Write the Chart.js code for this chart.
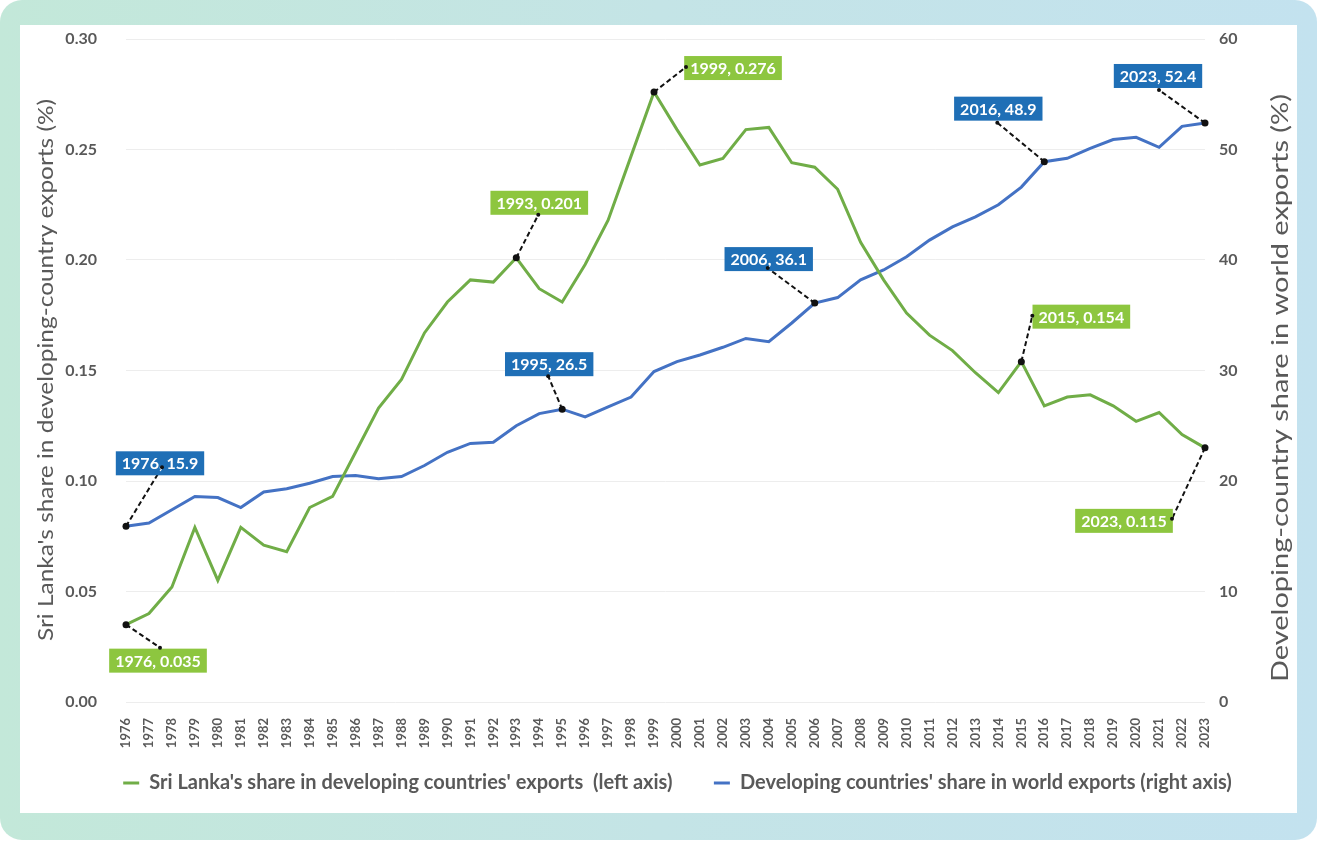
<!DOCTYPE html>
<html>
<head>
<meta charset="utf-8">
<script src="https://cdn.jsdelivr.net/npm/chart.js@4"></script>
<style>
  body { margin: 0; background: #fff; font-family: Lato, sans-serif; }
  .card {
    position: absolute; left: 0; top: 0; width: 1317px; height: 840px;
    border-radius: 22px;
    background: linear-gradient(90deg, #c3e8d9 0%, #c4e4e6 50%, #c3e2ef 100%);
  }
  .panel {
    position: absolute; left: 20px; top: 25px; width: 1277px; height: 788px;
    background: #fff;
  }
  canvas { display: block; }
</style>
</head>
<body>
<div class="card"></div>
<div class="panel"><canvas id="chart" width="1277" height="788"></canvas></div>
<script>
const years = [];
for (let y = 1976; y <= 2023; y++) years.push(String(y));

// Sri Lanka's share in developing-country exports (%), left axis
const sriLankaShare = [
  0.035, 0.040, 0.052, 0.079, 0.055, 0.079, 0.071, 0.068, 0.088, 0.093,
  0.113, 0.133, 0.146, 0.167, 0.181, 0.191, 0.190, 0.201, 0.187, 0.181,
  0.198, 0.218, 0.247, 0.276, 0.259, 0.243, 0.246, 0.259, 0.260, 0.244,
  0.242, 0.232, 0.208, 0.191, 0.176, 0.166, 0.159, 0.149, 0.140, 0.154,
  0.134, 0.138, 0.139, 0.134, 0.127, 0.131, 0.121, 0.115
];

// Developing countries' share in world exports (%), right axis
const developingShare = [
  15.9, 16.2, 17.4, 18.6, 18.5, 17.6, 19.0, 19.3, 19.8, 20.4,
  20.5, 20.2, 20.4, 21.4, 22.6, 23.4, 23.5, 25.0, 26.1, 26.5,
  25.8, 26.7, 27.6, 29.9, 30.8, 31.4, 32.1, 32.9, 32.6, 34.3,
  36.1, 36.6, 38.2, 39.1, 40.3, 41.8, 43.0, 43.9, 45.0, 46.6,
  48.9, 49.2, 50.1, 50.9, 51.1, 50.2, 52.1, 52.4
];

const leftTicks = [0, 0.05, 0.10, 0.15, 0.20, 0.25, 0.30];
const rightTicks = [0, 10, 20, 30, 40, 50, 60];

const leftTitle = "Sri Lanka's share in developing-country exports (%)";
const rightTitle = 'Developing-country share in world exports (%)';

const greenLine = '#70ad47';
const blueLine = '#4472c4';
const greenBox = '#8dc63f';
const blueBox = '#1f6fb6';
const grey = '#595959';

// callouts: dataset, year, leader end offset, box centre offset (px from point)
const callouts = [
  { ds: 1, year: '1976', lx: 36, ly: -59, bx: 34, by: -63 },
  { ds: 0, year: '1976', lx: 34, ly: 23, bx: 32, by: 36 },
  { ds: 0, year: '1993', lx: 22, ly: -43, bx: 23, by: -55 },
  { ds: 1, year: '1995', lx: -14, ly: -33, bx: -13, by: -45 },
  { ds: 0, year: '1999', lx: 32, ly: -25, bx: 79, by: -24 },
  { ds: 1, year: '2006', lx: -47, ly: -35, bx: -46, by: -44 },
  { ds: 1, year: '2016', lx: -47, ly: -39, bx: -46, by: -53 },
  { ds: 0, year: '2015', lx: 11, ly: -46, bx: 60, by: -45 },
  { ds: 1, year: '2023', lx: -46, ly: -33, bx: -47, by: -47 },
  { ds: 0, year: '2023', lx: -33, ly: 71, bx: -81, by: 73 }
];

const calloutPlugin = {
  id: 'callouts',
  afterDatasetsDraw(chart) {
    const ctx = chart.ctx;
    ctx.save();
    callouts.forEach(c => {
      const i = years.indexOf(c.year);
      const pt = chart.getDatasetMeta(c.ds).data[i];
      const v = chart.data.datasets[c.ds].data[i];
      const text = c.year + ', ' + (c.ds === 0 ? v.toFixed(3) : v.toFixed(1));
      ctx.setLineDash([5, 3]);
      ctx.strokeStyle = '#111';
      ctx.lineWidth = 2;
      ctx.beginPath();
      ctx.moveTo(pt.x, pt.y);
      ctx.lineTo(pt.x + c.lx, pt.y + c.ly);
      ctx.stroke();
      ctx.setLineDash([]);
      ctx.font = 'bold 16px Lato';
      const w = ctx.measureText(text).width + 12;
      const h = 24;
      const cx = pt.x + c.bx, cy = pt.y + c.by;
      ctx.fillStyle = c.ds === 0 ? greenBox : blueBox;
      ctx.fillRect(cx - w / 2, cy - h / 2, w, h);
      ctx.fillStyle = '#fff';
      ctx.textAlign = 'center';
      ctx.textBaseline = 'middle';
      ctx.fillText(text, cx, cy + 1);
      ctx.fillStyle = '#111';
      ctx.beginPath();
      ctx.arc(pt.x, pt.y, 3.5, 0, Math.PI * 2);
      ctx.fill();
      ctx.beginPath();
      ctx.arc(pt.x + c.lx, pt.y + c.ly, 2, 0, Math.PI * 2);
      ctx.fill();
    });
    ctx.restore();
  }
};

// both axis titles read bottom-to-top, stretched along their length
const axisTitlePlugin = {
  id: 'axisTitles',
  afterDraw(chart) {
    const ctx = chart.ctx;
    const a = chart.chartArea;
    const items = [
      { text: leftTitle, x: 26, y: a.top + 331, size: 22, len: 542 },
      { text: rightTitle, x: 1260, y: a.top + 349, size: 24, len: 588 }
    ];
    ctx.save();
    items.forEach(t => {
      ctx.save();
      ctx.font = t.size + 'px Lato';
      const k = t.len / ctx.measureText(t.text).width;
      ctx.translate(t.x, t.y);
      ctx.rotate(-Math.PI / 2);
      ctx.scale(k, 1);
      ctx.fillStyle = grey;
      ctx.textAlign = 'center';
      ctx.textBaseline = 'middle';
      ctx.fillText(t.text, 0, 0);
      ctx.restore();
    });
    ctx.restore();
  }
};

const ctx = document.getElementById('chart').getContext('2d');
const chart = new Chart(ctx, {
  type: 'line',
  data: {
    labels: years,
    datasets: [
      {
        label: "Sri Lanka's share in developing countries' exports  (left axis)    ",
        data: sriLankaShare,
        borderColor: greenLine,
        backgroundColor: greenLine,
        borderWidth: 3,
        pointRadius: 0,
        tension: 0,
        yAxisID: 'y'
      },
      {
        label: "Developing countries' share in world exports (right axis)",
        data: developingShare,
        borderColor: blueLine,
        backgroundColor: blueLine,
        borderWidth: 3,
        pointRadius: 0,
        tension: 0,
        yAxisID: 'y1'
      }
    ]
  },
  options: {
    responsive: false,
    animation: false,
    layout: { padding: { top: 14, bottom: 10, left: 38, right: 0 } },
    plugins: {
      tooltip: { enabled: false },
      legend: {
        position: 'bottom',
        labels: {
          usePointStyle: true,
          pointStyleWidth: 16,
          pointStyle: 'line',
          boxHeight: 3,
          padding: 22,
          color: grey,
          font: { family: 'Lato', size: 20, weight: 'bold' }
        }
      }
    },
    scales: {
      x: {
        offset: false,
        grid: { display: false },
        border: { display: false },
        ticks: {
          autoSkip: false,
          maxRotation: 90,
          minRotation: 90,
          color: grey,
          padding: 8,
          font: { family: 'Lato', size: 13, weight: 'bold' }
        },
        afterFit: s => { s.height = 49; }
      },
      y: {
        position: 'left',
        min: 0,
        max: 0.3,
        afterBuildTicks: s => { s.ticks = leftTicks.map(v => ({ value: v })); },
        grid: { color: '#ededed', lineWidth: 1, tickLength: 29, tickColor: 'rgba(0,0,0,0)' },
        border: { display: false },
        ticks: {
          color: grey,
          padding: 0,
          font: { family: 'Lato', size: 16, weight: 'bold' },
          callback: v => v.toFixed(2)
        },
        afterFit: s => { s.width = 68; }
      },
      y1: {
        position: 'right',
        min: 0,
        max: 60,
        afterBuildTicks: s => { s.ticks = rightTicks.map(v => ({ value: v })); },
        grid: { drawOnChartArea: false, tickLength: 14, tickColor: 'rgba(0,0,0,0)' },
        border: { display: false },
        ticks: {
          color: grey,
          padding: 0,
          font: { family: 'Lato', size: 16, weight: 'bold' }
        },
        afterFit: s => { s.width = 92; }
      }
    }
  },
  plugins: [calloutPlugin, axisTitlePlugin]
});
</script>
</body>
</html>
